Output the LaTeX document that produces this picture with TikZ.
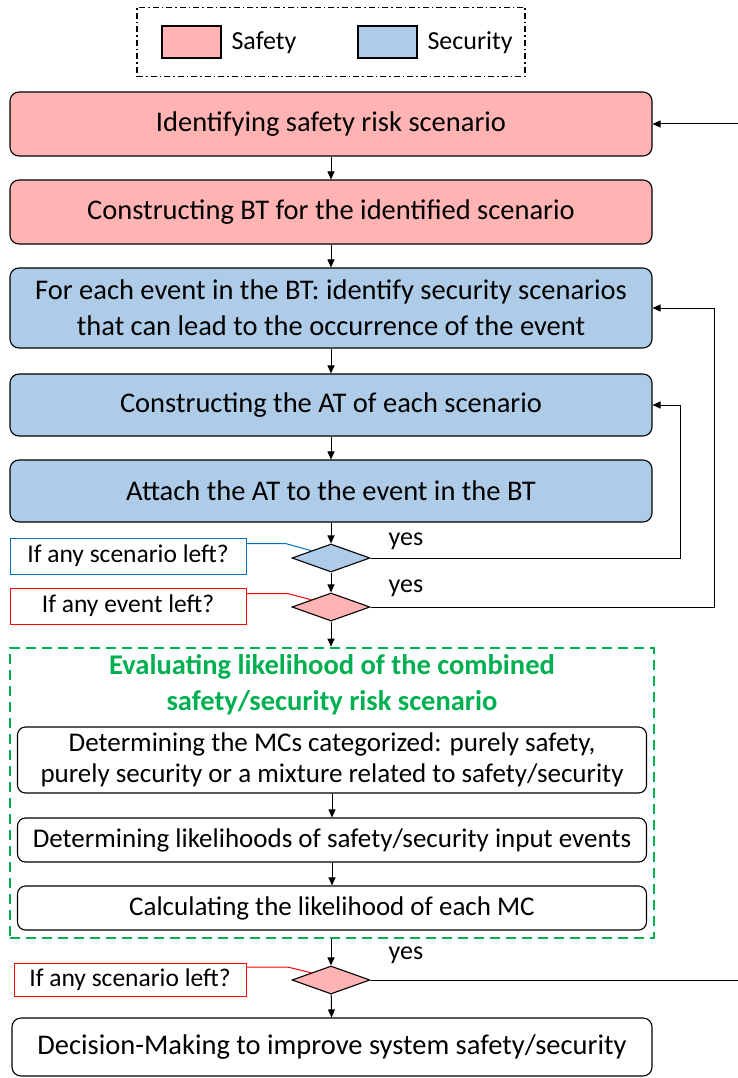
\documentclass[tikz,border=0pt]{standalone}
\usepackage{fontspec}
\setmainfont{Carlito}
\usetikzlibrary{arrows.meta,shapes.geometric}
\definecolor{safetyfill}{RGB}{255,179,179}
\definecolor{securityfill}{RGB}{174,204,232}
\definecolor{calloutblue}{RGB}{0,112,192}
\definecolor{evalgreen}{RGB}{0,176,80}

\begin{document}
\begin{tikzpicture}[x=1pt,y=-1pt,
  every node/.style={font=\fontsize{28.5}{36}\selectfont},
  stage/.style={draw,rounded corners=9pt,line width=1.1pt,minimum width=642pt,align=center,inner sep=0pt},
  substage/.style={draw,rounded corners=8pt,line width=1.1pt,minimum width=629pt,align=center,inner sep=0pt,font=\fontsize{27}{31}\selectfont},
  choice/.style={draw,diamond,aspect=2.8,minimum width=78pt,minimum height=28pt,inner sep=0pt,line width=1.1pt},
  callout/.style={draw,line width=1pt,minimum width=236pt,minimum height=36pt,inner sep=0pt,font=\fontsize{25.5}{30}\selectfont},
  note/.style={font=\fontsize{26}{30}\selectfont},
  arr/.style={-{Triangle[length=8pt,width=7pt]},line width=1pt}]
\useasboundingbox (0,0) rectangle (738,1078);
% legend
\node[draw,line width=1.2pt,dash pattern=on 6pt off 3pt on 1.5pt off 3pt,minimum width=388pt,minimum height=69pt] (legend) at (331,42) {};
\node[draw,fill=safetyfill,line width=1.1pt,minimum width=59pt,minimum height=32pt] (safetykey) at (191.5,42) {};
\node[note,anchor=west] (safetylbl) at (228,43) {Safety};
\node[draw,fill=securityfill,line width=1.1pt,minimum width=59pt,minimum height=32pt] (securitykey) at (387.5,42) {};
\node[note,anchor=west] (securitylbl) at (424,43) {Security};
% main steps
\node[stage,fill=safetyfill,minimum height=64pt] (b1) at (331,124) {Identifying safety risk scenario};
\node[stage,fill=safetyfill,minimum height=64pt] (b2) at (331,212) {Constructing BT for the identified scenario};
\node[stage,fill=securityfill,minimum height=80pt] (b3) at (331,308) {For each event in the BT: identify security scenarios\\that can lead to the occurrence of the event};
\node[stage,fill=securityfill,minimum height=62pt] (b4) at (331,405) {Constructing the AT of each scenario};
\node[stage,fill=securityfill,minimum height=62pt] (b5) at (331,491) {Attach the AT to the event in the BT};
\draw[arr] (b1) -- (b2);
\draw[arr] (b2) -- (b3);
\draw[arr] (b3) -- (b4);
\draw[arr] (b4) -- (b5);
% decisions
\node[choice,fill=securityfill] (d1) at (331,558) {};
\node[choice,fill=safetyfill] (d2) at (331,607) {};
\draw[arr] (b5) -- (d1);
\draw[arr] (d1) -- (d2);
\node[note] (yes1) at (406,541) {yes};
\node[note] (yes2) at (406,588) {yes};
\draw[arr] (d1.east) -| ([xshift=28pt]b4.east) -- (b4.east);
\draw[arr] (d2.east) -| ([xshift=62pt]b3.east) -- (b3.east);
\node[callout,draw=calloutblue] (c1) at (128,556) {If any scenario left?};
\node[callout,draw=red] (c2) at (128,606) {If any event left?};
\draw[calloutblue,line width=1pt] ([yshift=-6pt]c1.north east) -- ++(39,0) -- (d1.north west);
\draw[red,line width=1pt] ([yshift=-6pt]c2.north east) -- ++(41,0) -- (d2.north west);
% likelihood evaluation
\node[draw=evalgreen,line width=2.6pt,dash pattern=on 10pt off 6pt,minimum width=644pt,minimum height=290pt] (evalbox) at (332,793) {};
\node[align=center,text=evalgreen,font=\bfseries\fontsize{28.5}{36}\selectfont] (evaltitle) at (332,685) {Evaluating likelihood of the combined\\safety/security risk scenario};
\node[substage,minimum height=66pt] (e1) at (332,760) {Determining the MCs categorized: purely safety,\\purely security or a mixture related to safety/security};
\node[substage,minimum height=44pt] (e2) at (332,840) {Determining likelihoods of safety/security input events};
\node[substage,minimum height=44pt] (e3) at (332,908) {Calculating the likelihood of each MC};
\draw[arr] (d2) -- (evalbox.north -| d2);
\draw[arr] (e1) -- (e2);
\draw[arr] (e2) -- (e3);
% last decision
\node[choice,fill=safetyfill] (d3) at (331,980) {};
\draw[arr] (evalbox.south -| d3) -- (d3);
\node[note] (yes3) at (406,955) {yes};
\node[callout,draw=red,minimum width=232pt,minimum height=33pt] (c3) at (130,980) {If any scenario left?};
\draw[red,line width=1pt] ([yshift=-4pt]c3.north east) -- ++(41,0) -- (d3.north west);
\coordinate (loopend) at (738,980);
\coordinate (loopstart) at (738,124);
\draw[line width=1pt] (d3.east) -- (loopend);
\draw[arr] (loopstart) -- (b1.east);
\node[stage,minimum width=640pt,minimum height=58pt] (final) at (332,1047) {Decision-Making to improve system safety/security};
\draw[arr] (d3) -- (final);
\end{tikzpicture}
\end{document}
